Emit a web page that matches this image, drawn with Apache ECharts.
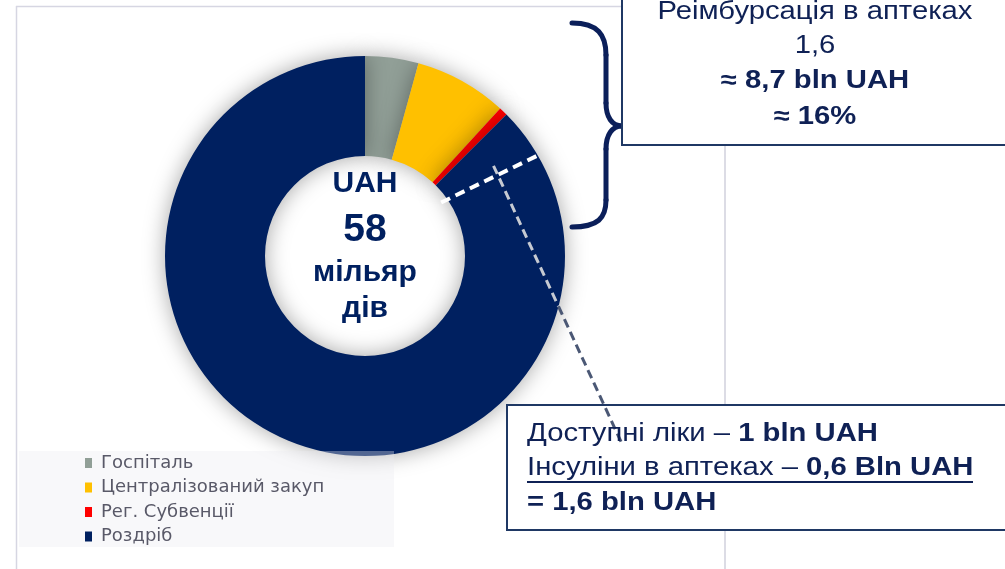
<!DOCTYPE html>
<html><head><meta charset="utf-8">
<script src="https://cdn.jsdelivr.net/npm/echarts@6/dist/echarts.min.js"></script>
<style>html,body{margin:0;padding:0;background:#fff}#c{width:1005px;height:569px}</style>
</head><body><div id="c"></div>
<script>
// ---- data ----
const categories = ['Госпіталь', 'Централізований закуп', 'Рег. Субвенції', 'Роздріб'];
const values = [2.5, 4.35, 0.4, 50.75];           // bln UAH
const colors = ['#919F97', '#FFC000', '#FF0000', '#002060'];
const reimbursementInRetail = 1.6;                // part of Роздріб, bln UAH
const centerLines = ['UAH', '58', 'мільяр', 'дів'];
const topBoxLines = ['Реімбурсація в аптеках', '1,6', '≈ 8,7 bln UAH', '≈ 16%'];
const bottomBox = [
  ['Доступні ліки – ', '1 bln UAH'],
  ['Інсуліни в аптеках – ', '0,6 Bln UAH'],
  ['', '= 1,6 bln UAH']
];

// ---- geometry ----
const CX = 365, CY = 256, R0 = 100, R1 = 200;
const total = values.reduce((a, b) => a + b, 0);
function polar(frac, r) {
  const th = (90 - 360 * frac) * Math.PI / 180;
  return [CX + r * Math.cos(th), CY - r * Math.sin(th)];
}
const cut = (values[0] + values[1] + values[2] + reimbursementInRetail) / total;
const wIn = polar(cut, 93), wOut = polar(cut + 0.0135, 200);
const lStart = polar(cut, 157), lEnd = [623, 446];
// intersection of leader with outer circle
let dx = lEnd[0] - lStart[0], dy = lEnd[1] - lStart[1];
let px = lStart[0] - CX, py = lStart[1] - CY;
let A = dx * dx + dy * dy, B = 2 * (px * dx + py * dy), C = px * px + py * py - R1 * R1;
let t = (-B + Math.sqrt(B * B - 4 * A * C)) / (2 * A);
const lMid = [lStart[0] + dx * t, lStart[1] + dy * t];

const FONT = '"Liberation Sans", Arial, sans-serif';
const NAVY = '#0f2155';
const braceStyle = { stroke: '#0b1f5a', lineWidth: 5, fill: null, lineCap: 'round' };

const chart = echarts.init(document.getElementById('c'));
const graphic = [
  // frame lines
  { type: 'line', shape: { x1: 16, y1: 6.5, x2: 622, y2: 6.5 }, style: { stroke: '#d6d6e2', lineWidth: 1.5 }, z: 1 },
  { type: 'line', shape: { x1: 16.5, y1: 6, x2: 16.5, y2: 569 }, style: { stroke: '#d6d6e2', lineWidth: 1.5 }, z: 1 },
  { type: 'line', shape: { x1: 725, y1: 0, x2: 725, y2: 569 }, style: { stroke: '#d0d0dc', lineWidth: 1.5 }, z: 1 },
  // legend background overlay
  { type: 'rect', shape: { x: 19, y: 451, width: 375, height: 96 }, style: { fill: 'rgba(235,235,240,0.35)' }, z: 50 },
  // white dashed divider
  { type: 'line', shape: { x1: wIn[0], y1: wIn[1], x2: wOut[0], y2: wOut[1] }, style: { stroke: '#ffffff', lineWidth: 4, lineDash: [10, 6] }, z: 60 },
  // brace
  { type: 'bezierCurve', shape: { x1: 572, y1: 23, cpx1: 598, cpy1: 23, cpx2: 606, cpy2: 35, x2: 606, y2: 55 }, style: braceStyle, z: 60 },
  { type: 'line', shape: { x1: 606, y1: 55, x2: 606, y2: 103 }, style: braceStyle, z: 60 },
  { type: 'bezierCurve', shape: { x1: 606, y1: 103, cpx1: 606, cpy1: 117, cpx2: 612, cpy2: 126, x2: 622, y2: 126 }, style: braceStyle, z: 60 },
  { type: 'bezierCurve', shape: { x1: 622, y1: 126, cpx1: 612, cpy1: 126, cpx2: 606, cpy2: 135, x2: 606, y2: 149 }, style: braceStyle, z: 60 },
  { type: 'line', shape: { x1: 606, y1: 149, x2: 606, y2: 200 }, style: braceStyle, z: 60 },
  { type: 'bezierCurve', shape: { x1: 606, y1: 200, cpx1: 606, cpy1: 218, cpx2: 598, cpy2: 227, x2: 572, y2: 227 }, style: braceStyle, z: 60 },
  // top box
  { type: 'rect', shape: { x: 622, y: -5, width: 400, height: 150 }, style: { fill: '#fff', stroke: '#1f3864', lineWidth: 2 }, z: 70 },
  // bottom box
  { type: 'rect', shape: { x: 507, y: 405, width: 510, height: 125 }, style: { fill: '#fff', stroke: '#1f3864', lineWidth: 2 }, z: 70 },
  // underline line 2
  { type: 'line', shape: { x1: 527, y1: 482, x2: 973, y2: 482 }, style: { stroke: NAVY, lineWidth: 2 }, z: 75 },
  // leader line
  { type: 'line', shape: { x1: lStart[0], y1: lStart[1], x2: lMid[0], y2: lMid[1] }, style: { stroke: '#c6cad2', lineWidth: 3, lineDash: [9, 5] }, z: 80 },
  { type: 'line', shape: { x1: lMid[0], y1: lMid[1], x2: lEnd[0], y2: lEnd[1] }, style: { stroke: '#4b5875', lineWidth: 3, lineDash: [9, 5] }, z: 80 }
];
// center texts
const cY = [184, 230, 273, 309];
const cSize = [30, 39, 30, 30];
centerLines.forEach((s, i) => graphic.push({ type: 'text', x: CX, y: cY[i], z: 90,
  style: { text: s, fill: '#002060', font: 'bold ' + cSize[i] + 'px ' + FONT, align: 'center', verticalAlign: 'middle' } }));
// top box texts
const tY = [12, 46, 81, 117];
topBoxLines.forEach((s, i) => graphic.push({ type: 'text', x: 815, y: tY[i], z: 90, scaleX: 1.17,
  style: { text: s, fill: NAVY, font: (i >= 2 ? 'bold ' : '') + '25px ' + FONT, align: 'center', verticalAlign: 'middle' } }));
// bottom box texts
const bY = [434, 468, 503];
bottomBox.forEach((p, i) => graphic.push({ type: 'text', x: 527, y: bY[i], z: 90, scaleX: 1.17,
  style: { text: (p[0] ? '{n|' + p[0] + '}' : '') + '{b|' + p[1] + '}', align: 'left', verticalAlign: 'middle',
    rich: { n: { font: '25px ' + FONT, fill: NAVY }, b: { font: 'bold 25px ' + FONT, fill: NAVY } } } }));

chart.setOption({
  animation: false,
  backgroundColor: '#fff',
  color: colors,
  legend: {
    orient: 'vertical', left: 85, top: 454, padding: 0, z: 100,
    itemWidth: 7, itemHeight: 10, itemGap: 6.5, icon: 'rect',
    data: categories,
    textStyle: { fontSize: 18, lineHeight: 18, color: '#595968', fontFamily: '"DejaVu Sans", sans-serif', padding: [0, 0, 0, 4] }
  },
  series: [{
    type: 'pie', center: [CX, CY], radius: [R0, R1], startAngle: 90, clockwise: true,
    label: { show: false }, labelLine: { show: false },
    itemStyle: { shadowBlur: 22, shadowColor: 'rgba(0,0,0,0.35)' },
    emphasis: { disabled: true },
    data: categories.map((c, i) => ({ name: c, value: values[i] }))
  }],
  graphic: graphic
});
</script></body></html>
